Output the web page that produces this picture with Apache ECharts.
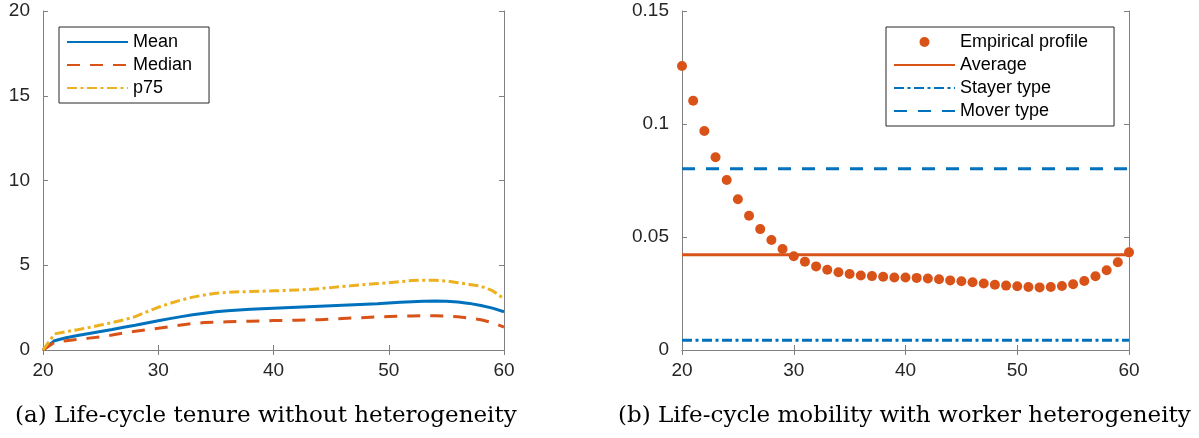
<!DOCTYPE html>
<html>
<head>
<meta charset="utf-8">
<script src="https://cdn.jsdelivr.net/npm/echarts@6/dist/echarts.min.js"></script>
<style>
html,body{margin:0;padding:0;background:#fff;}
#c{width:1199px;height:438px;}
</style>
</head>
<body>
<div id="c"></div>
<script>
// ---- Data ----
const ages = [20,21,22,23,24,25,26,27,28,29,30,31,32,33,34,35,36,37,38,39,40,41,42,43,44,45,46,47,48,49,50,51,52,53,54,55,56,57,58,59,60];
const tenureMean = [0,0.55,0.72,0.85,0.97,1.09,1.21,1.34,1.46,1.59,1.72,1.85,1.97,2.08,2.17,2.25,2.31,2.36,2.40,2.43,2.46,2.49,2.52,2.55,2.58,2.61,2.64,2.67,2.70,2.73,2.77,2.81,2.85,2.88,2.89,2.88,2.83,2.75,2.63,2.47,2.26];
const tenureMedian = [0,0.45,0.55,0.62,0.70,0.78,0.88,1.00,1.10,1.20,1.28,1.38,1.48,1.56,1.62,1.64,1.66,1.68,1.70,1.72,1.74,1.75,1.76,1.77,1.79,1.83,1.86,1.89,1.92,1.95,1.98,2.00,2.01,2.02,2.02,2.01,1.96,1.88,1.78,1.62,1.35];
const tenureP75 = [0,0.95,1.08,1.20,1.33,1.47,1.62,1.78,1.97,2.25,2.52,2.75,2.95,3.12,3.25,3.35,3.40,3.43,3.45,3.47,3.49,3.51,3.54,3.57,3.62,3.68,3.75,3.81,3.87,3.92,3.97,4.03,4.10,4.12,4.12,4.07,3.97,3.87,3.76,3.50,3.02];
const mobilityEmpirical = [0.1257,0.1103,0.0969,0.0853,0.0752,0.0667,0.0594,0.0535,0.0487,0.0447,0.0415,0.0391,0.0370,0.0355,0.0344,0.0336,0.0330,0.0327,0.0324,0.0321,0.0321,0.0319,0.0316,0.0313,0.0308,0.0304,0.0300,0.0294,0.0289,0.0285,0.0282,0.0279,0.0277,0.0279,0.0283,0.0291,0.0305,0.0326,0.0353,0.0388,0.0432];
const mobilityAverage = 0.0422;
const stayerType = 0.0043;
const moverType = 0.0802;
const ageRange = [20, 60];
const captions = ['(a) Life-cycle tenure without heterogeneity', '(b) Life-cycle mobility with worker heterogeneity'];

// ---- Helpers ----
const pairs = (xs, ys) => xs.map((x, i) => [x, ys[i]]);
const flat = (v) => ageRange.map(x => [x, v]);

const BLUE = '#0072BD', ORANGE = '#D95319', YELLOW = '#EDB120';
const AX = '#808080', TXT = '#262626';
const FONT = 'Liberation Sans, Arial, sans-serif';

function xAx(grid, pos, labels) {
  return {
    type: 'value', gridIndex: grid, position: pos, min: 20, max: 60, interval: 10,
    axisLine: {show: true, lineStyle: {color: AX, width: 1}},
    axisTick: {show: true, inside: true, length: 5, lineStyle: {color: AX}},
    axisLabel: {show: labels, margin: 11, color: TXT, fontSize: 19, fontFamily: FONT},
    splitLine: {show: false}
  };
}
function yAx(grid, pos, labels, max, interval) {
  return {
    type: 'value', gridIndex: grid, position: pos, min: 0, max: max, interval: interval,
    axisLine: {show: true, onZero: false, lineStyle: {color: AX, width: 1}},
    axisTick: {show: true, inside: true, length: 5, lineStyle: {color: AX}},
    axisLabel: {show: labels, margin: 13, color: TXT, fontSize: 19, fontFamily: FONT},
    splitLine: {show: false}
  };
}
function lineSeries(name, data, color, type, w, xi, yi) {
  return {
    name: name, type: 'line', data: data, xAxisIndex: xi, yAxisIndex: yi,
    symbol: 'none', showSymbol: false, smooth: false,
    lineStyle: {color: color, width: w, type: type},
    itemStyle: {color: color}
  };
}
const noDot = (name) => ({name: name, itemStyle: {opacity: 0}});
const legendBase = {
  orient: 'vertical', itemWidth: 61, itemHeight: 10, itemGap: 5,
  backgroundColor: '#fff', borderColor: '#262626', borderWidth: 1, borderRadius: 0,
  textStyle: {fontSize: 18, color: '#000', fontFamily: FONT},
  selectedMode: false
};

const chart = echarts.init(document.getElementById('c'), null, {renderer: 'canvas'});
chart.setOption({
  animation: false,
  backgroundColor: '#fff',
  grid: [
    {left: 43, top: 11, width: 461, height: 339},
    {left: 682, top: 11, width: 447, height: 339}
  ],
  xAxis: [xAx(0, 'bottom', true), xAx(0, 'top', false), xAx(1, 'bottom', true), xAx(1, 'top', false)],
  yAxis: [yAx(0, 'left', true, 20, 5), yAx(0, 'right', false, 20, 5), yAx(1, 'left', true, 0.15, 0.05), yAx(1, 'right', false, 0.15, 0.05)],
  legend: [
    Object.assign({}, legendBase, {left: 59, top: 27, padding: [6, 17, 6, 7], data: [noDot('Mean'), noDot('Median'), noDot('p75')]}),
    Object.assign({}, legendBase, {left: 886, top: 27, padding: [6, 26, 6, 7], data: ['Empirical profile', noDot('Average'), noDot('Stayer type'), noDot('Mover type')]})
  ],
  series: [
    lineSeries('Mean', pairs(ages, tenureMean), BLUE, 'solid', 3, 0, 0),
    lineSeries('Median', pairs(ages, tenureMedian), ORANGE, [13, 10], 3, 0, 0),
    lineSeries('p75', pairs(ages, tenureP75), YELLOW, [10, 3.5, 3, 3.5], 3, 0, 0),
    lineSeries('Average', flat(mobilityAverage), ORANGE, 'solid', 3, 2, 2),
    lineSeries('Stayer type', flat(stayerType), BLUE, [10, 3.5, 3, 3.5], 3, 2, 2),
    lineSeries('Mover type', flat(moverType), BLUE, [13, 11], 3, 2, 2),
    {
      name: 'Empirical profile', type: 'scatter', xAxisIndex: 2, yAxisIndex: 2,
      data: pairs(ages, mobilityEmpirical), symbol: 'circle', symbolSize: 10,
      itemStyle: {color: ORANGE, opacity: 1}, z: 5
    }
  ],
  graphic: [
    {type: 'text', left: 15, top: 405, style: {text: captions[0], font: '23px "DejaVu Serif", serif', fill: '#000'}},
    {type: 'text', left: 618, top: 405, style: {text: captions[1], font: '23px "DejaVu Serif", serif', fill: '#000'}}
  ]
});
</script>
</body>
</html>
